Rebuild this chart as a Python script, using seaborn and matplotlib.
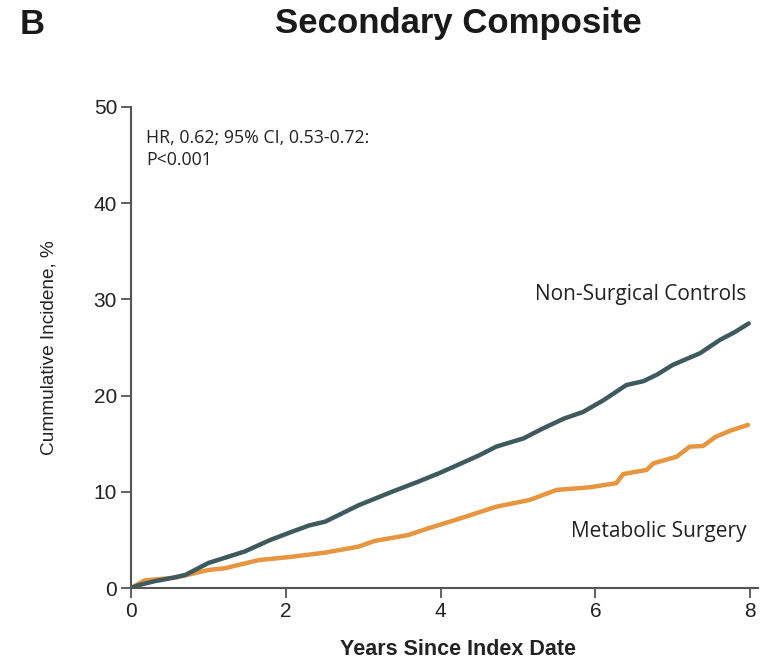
import matplotlib
matplotlib.use("Agg")
import matplotlib.pyplot as plt
import seaborn as sns
import pandas as pd

# ---- data ----
ctrl_years = [0.0, 0.1, 0.3, 0.5, 0.70, 1.0, 1.47, 1.8, 2.08, 2.3, 2.51, 2.94, 3.37, 3.71, 4.0, 4.25,
              4.5, 4.72, 5.07, 5.3, 5.59, 5.84, 6.1, 6.4, 6.62, 6.8, 7.0, 7.35, 7.61, 7.8, 7.98]
ctrl_vals = [0.0, 0.3, 0.7, 1.0, 1.35, 2.6, 3.8, 5.0, 5.85, 6.5, 6.9, 8.6, 10.0, 11.05, 12.0, 12.9,
             13.8, 14.7, 15.55, 16.5, 17.6, 18.3, 19.5, 21.1, 21.5, 22.2, 23.2, 24.4, 25.8, 26.6, 27.5]

surg_years = [0.0, 0.18, 0.57, 1.0, 1.21, 1.65, 2.08, 2.5, 2.94, 3.15, 3.58, 3.8, 4.19, 4.72,
              5.15, 5.5, 5.93, 6.27, 6.36, 6.66, 6.75, 7.05, 7.22, 7.39, 7.55, 7.74, 7.97]
surg_vals = [0.0, 0.8, 1.07, 1.87, 2.05, 2.9, 3.25, 3.67, 4.3, 4.9, 5.5, 6.1, 7.07, 8.45,
             9.15, 10.2, 10.47, 10.9, 11.85, 12.27, 12.96, 13.65, 14.7, 14.76, 15.7, 16.35, 16.95]

x_ticks = [0, 2, 4, 6, 8]
y_ticks = [0, 10, 20, 30, 40, 50]

title = "Secondary Composite"
panel = "B"
xlabel = "Years Since Index Date"
ylabel = "Cummulative Incidene, %"
annot = "HR, 0.62; 95% CI, 0.53-0.72:\nP<0.001"
label_ctrl = "Non-Surgical Controls"
label_surg = "Metabolic Surgery"

# ---- style ----
sns.set_theme(style="ticks")
plt.rcParams["font.family"] = ["Liberation Sans", "DejaVu Sans"]

c_ctrl = "#3e5a5e"
c_surg = "#e8953f"
spine_c = "#555555"
txt_c = "#222222"

df = pd.concat([
    pd.DataFrame({"Years": ctrl_years, "Incidence": ctrl_vals, "Group": label_ctrl}),
    pd.DataFrame({"Years": surg_years, "Incidence": surg_vals, "Group": label_surg}),
])

fig = plt.figure(figsize=(7.68, 6.56), dpi=100)
ax = fig.add_axes([131 / 768, 68 / 656, 627 / 768, 481 / 656])

sns.lineplot(data=df, x="Years", y="Incidence", hue="Group",
             palette={label_ctrl: c_ctrl, label_surg: c_surg},
             hue_order=[label_surg, label_ctrl],
             linewidth=3.2, legend=False, ax=ax, estimator=None, sort=False)

ax.set_xlim(0, 8.1)
ax.set_ylim(0, 50)
ax.set_xticks(x_ticks)
ax.set_yticks(y_ticks)
ax.set_xticklabels([str(t) for t in x_ticks])
ax.set_yticklabels([str(t) for t in y_ticks])
for lab in ax.get_xticklabels() + ax.get_yticklabels():
    lab.set_fontsize(15)
    lab.set_color(txt_c)
ax.tick_params(axis="both", length=7, width=1.3, color=spine_c, pad=3)

for s in ["top", "right"]:
    ax.spines[s].set_visible(False)
for s in ["left", "bottom"]:
    ax.spines[s].set_color(spine_c)
    ax.spines[s].set_linewidth(1.5)

ax.set_xlabel("")
ax.set_ylabel(ylabel, fontsize=13.7, labelpad=26, color=txt_c)

fig.text(458 / 768, 1 - 639 / 656, xlabel, fontsize=15.5, fontweight="bold",
         ha="center", va="top", color=txt_c)

ax.text(0.2, 47.7, annot, fontsize=12.8, fontfamily="Open Sans", va="top", ha="left",
        color=txt_c, linespacing=1.25)
ax.text(7.95, 30.5, label_ctrl, fontsize=15, fontfamily="Open Sans", ha="right", va="center",
        color=txt_c)
ax.text(7.95, 5.9, label_surg, fontsize=15, fontfamily="Open Sans", ha="right", va="center",
        color=txt_c)

fig.text(458 / 768, 1 - 24 / 656, title, fontsize=25, fontweight="bold", ha="center", va="center",
         color="#1a1a1a")
fig.text(20 / 768, 1 - 24 / 656, panel, fontsize=25, fontweight="bold", ha="left", va="center",
         color="#1a1a1a")

fig.savefig("out.png", dpi=100, facecolor="white")
